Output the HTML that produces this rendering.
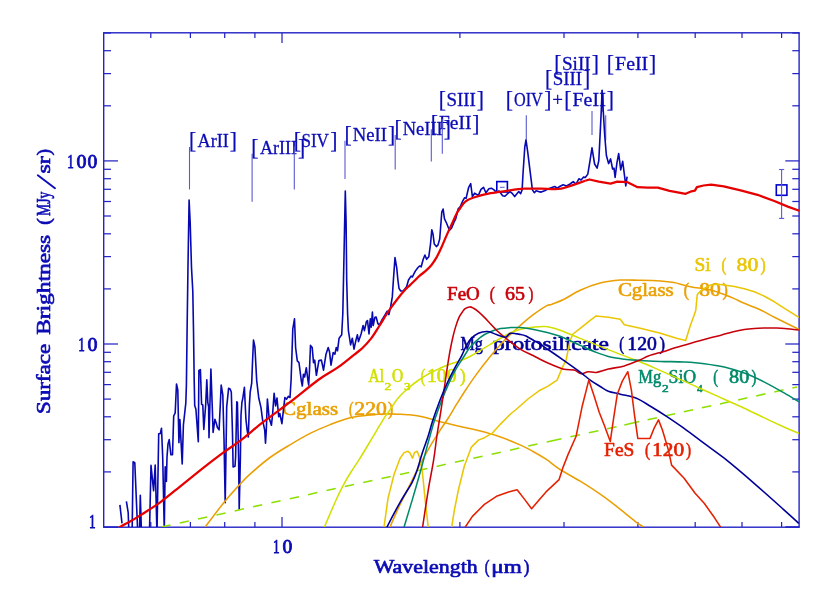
<!DOCTYPE html>
<html><head><meta charset="utf-8"><title>Spectrum</title>
<style>html,body{margin:0;padding:0;background:#fff}svg{display:block;will-change:transform}text{font-family:"Liberation Serif",serif}</style>
</head><body>
<svg width="830" height="593" viewBox="0 0 830 593">
<rect width="830" height="593" fill="#ffffff"/>
<defs><clipPath id="c"><rect x="104.0" y="33.0" width="695.3" height="494.0"/></clipPath></defs>
<rect x="103.7" y="32.8" width="695.4" height="494.4" fill="none" stroke="#2424c6" stroke-width="1.4"/>
<line x1="150.8" y1="527.0" x2="150.8" y2="522.0" stroke="#2424c6" stroke-width="1.25" />
<line x1="150.8" y1="33.0" x2="150.8" y2="38.0" stroke="#2424c6" stroke-width="1.25" />
<line x1="190.4" y1="527.0" x2="190.4" y2="522.0" stroke="#2424c6" stroke-width="1.25" />
<line x1="190.4" y1="33.0" x2="190.4" y2="38.0" stroke="#2424c6" stroke-width="1.25" />
<line x1="224.7" y1="527.0" x2="224.7" y2="522.0" stroke="#2424c6" stroke-width="1.25" />
<line x1="224.7" y1="33.0" x2="224.7" y2="38.0" stroke="#2424c6" stroke-width="1.25" />
<line x1="254.9" y1="527.0" x2="254.9" y2="522.0" stroke="#2424c6" stroke-width="1.25" />
<line x1="254.9" y1="33.0" x2="254.9" y2="38.0" stroke="#2424c6" stroke-width="1.25" />
<line x1="282.0" y1="527.0" x2="282.0" y2="517.0" stroke="#2424c6" stroke-width="1.25" />
<line x1="282.0" y1="33.0" x2="282.0" y2="43.0" stroke="#2424c6" stroke-width="1.25" />
<line x1="459.9" y1="527.0" x2="459.9" y2="522.0" stroke="#2424c6" stroke-width="1.25" />
<line x1="459.9" y1="33.0" x2="459.9" y2="38.0" stroke="#2424c6" stroke-width="1.25" />
<line x1="564.0" y1="527.0" x2="564.0" y2="522.0" stroke="#2424c6" stroke-width="1.25" />
<line x1="564.0" y1="33.0" x2="564.0" y2="38.0" stroke="#2424c6" stroke-width="1.25" />
<line x1="637.9" y1="527.0" x2="637.9" y2="522.0" stroke="#2424c6" stroke-width="1.25" />
<line x1="637.9" y1="33.0" x2="637.9" y2="38.0" stroke="#2424c6" stroke-width="1.25" />
<line x1="695.2" y1="527.0" x2="695.2" y2="522.0" stroke="#2424c6" stroke-width="1.25" />
<line x1="695.2" y1="33.0" x2="695.2" y2="38.0" stroke="#2424c6" stroke-width="1.25" />
<line x1="742.0" y1="527.0" x2="742.0" y2="522.0" stroke="#2424c6" stroke-width="1.25" />
<line x1="742.0" y1="33.0" x2="742.0" y2="38.0" stroke="#2424c6" stroke-width="1.25" />
<line x1="781.6" y1="527.0" x2="781.6" y2="522.0" stroke="#2424c6" stroke-width="1.25" />
<line x1="781.6" y1="33.0" x2="781.6" y2="38.0" stroke="#2424c6" stroke-width="1.25" />
<line x1="104.0" y1="471.9" x2="111.0" y2="471.9" stroke="#2424c6" stroke-width="1.25" />
<line x1="799.3" y1="471.9" x2="792.3" y2="471.9" stroke="#2424c6" stroke-width="1.25" />
<line x1="104.0" y1="439.7" x2="111.0" y2="439.7" stroke="#2424c6" stroke-width="1.25" />
<line x1="799.3" y1="439.7" x2="792.3" y2="439.7" stroke="#2424c6" stroke-width="1.25" />
<line x1="104.0" y1="416.8" x2="111.0" y2="416.8" stroke="#2424c6" stroke-width="1.25" />
<line x1="799.3" y1="416.8" x2="792.3" y2="416.8" stroke="#2424c6" stroke-width="1.25" />
<line x1="104.0" y1="399.1" x2="111.0" y2="399.1" stroke="#2424c6" stroke-width="1.25" />
<line x1="799.3" y1="399.1" x2="792.3" y2="399.1" stroke="#2424c6" stroke-width="1.25" />
<line x1="104.0" y1="384.6" x2="111.0" y2="384.6" stroke="#2424c6" stroke-width="1.25" />
<line x1="799.3" y1="384.6" x2="792.3" y2="384.6" stroke="#2424c6" stroke-width="1.25" />
<line x1="104.0" y1="372.3" x2="111.0" y2="372.3" stroke="#2424c6" stroke-width="1.25" />
<line x1="799.3" y1="372.3" x2="792.3" y2="372.3" stroke="#2424c6" stroke-width="1.25" />
<line x1="104.0" y1="361.7" x2="111.0" y2="361.7" stroke="#2424c6" stroke-width="1.25" />
<line x1="799.3" y1="361.7" x2="792.3" y2="361.7" stroke="#2424c6" stroke-width="1.25" />
<line x1="104.0" y1="352.3" x2="111.0" y2="352.3" stroke="#2424c6" stroke-width="1.25" />
<line x1="799.3" y1="352.3" x2="792.3" y2="352.3" stroke="#2424c6" stroke-width="1.25" />
<line x1="104.0" y1="344.0" x2="118.0" y2="344.0" stroke="#2424c6" stroke-width="1.25" />
<line x1="799.3" y1="344.0" x2="785.3" y2="344.0" stroke="#2424c6" stroke-width="1.25" />
<line x1="104.0" y1="288.9" x2="111.0" y2="288.9" stroke="#2424c6" stroke-width="1.25" />
<line x1="799.3" y1="288.9" x2="792.3" y2="288.9" stroke="#2424c6" stroke-width="1.25" />
<line x1="104.0" y1="256.6" x2="111.0" y2="256.6" stroke="#2424c6" stroke-width="1.25" />
<line x1="799.3" y1="256.6" x2="792.3" y2="256.6" stroke="#2424c6" stroke-width="1.25" />
<line x1="104.0" y1="233.8" x2="111.0" y2="233.8" stroke="#2424c6" stroke-width="1.25" />
<line x1="799.3" y1="233.8" x2="792.3" y2="233.8" stroke="#2424c6" stroke-width="1.25" />
<line x1="104.0" y1="216.0" x2="111.0" y2="216.0" stroke="#2424c6" stroke-width="1.25" />
<line x1="799.3" y1="216.0" x2="792.3" y2="216.0" stroke="#2424c6" stroke-width="1.25" />
<line x1="104.0" y1="201.5" x2="111.0" y2="201.5" stroke="#2424c6" stroke-width="1.25" />
<line x1="799.3" y1="201.5" x2="792.3" y2="201.5" stroke="#2424c6" stroke-width="1.25" />
<line x1="104.0" y1="189.3" x2="111.0" y2="189.3" stroke="#2424c6" stroke-width="1.25" />
<line x1="799.3" y1="189.3" x2="792.3" y2="189.3" stroke="#2424c6" stroke-width="1.25" />
<line x1="104.0" y1="178.7" x2="111.0" y2="178.7" stroke="#2424c6" stroke-width="1.25" />
<line x1="799.3" y1="178.7" x2="792.3" y2="178.7" stroke="#2424c6" stroke-width="1.25" />
<line x1="104.0" y1="169.3" x2="111.0" y2="169.3" stroke="#2424c6" stroke-width="1.25" />
<line x1="799.3" y1="169.3" x2="792.3" y2="169.3" stroke="#2424c6" stroke-width="1.25" />
<line x1="104.0" y1="160.9" x2="118.0" y2="160.9" stroke="#2424c6" stroke-width="1.25" />
<line x1="799.3" y1="160.9" x2="785.3" y2="160.9" stroke="#2424c6" stroke-width="1.25" />
<line x1="104.0" y1="105.8" x2="111.0" y2="105.8" stroke="#2424c6" stroke-width="1.25" />
<line x1="799.3" y1="105.8" x2="792.3" y2="105.8" stroke="#2424c6" stroke-width="1.25" />
<line x1="104.0" y1="73.6" x2="111.0" y2="73.6" stroke="#2424c6" stroke-width="1.25" />
<line x1="799.3" y1="73.6" x2="792.3" y2="73.6" stroke="#2424c6" stroke-width="1.25" />
<line x1="104.0" y1="50.7" x2="111.0" y2="50.7" stroke="#2424c6" stroke-width="1.25" />
<line x1="799.3" y1="50.7" x2="792.3" y2="50.7" stroke="#2424c6" stroke-width="1.25" />
<line x1="104.0" y1="33.0" x2="111.0" y2="33.0" stroke="#2424c6" stroke-width="1.25" />
<line x1="799.3" y1="33.0" x2="792.3" y2="33.0" stroke="#2424c6" stroke-width="1.25" />
<line x1="104.0" y1="527.0" x2="118.0" y2="527.0" stroke="#2424c6" stroke-width="1.6" />
<line x1="799.3" y1="527.0" x2="785.3" y2="527.0" stroke="#2424c6" stroke-width="1.6" />
<rect x="496.8" y="181.6" width="10.6" height="10.4" fill="none" stroke="#0000cd" stroke-width="1.6"/>
<line x1="499.9" y1="187.3" x2="504.6" y2="187.3" stroke="#5a5ad0" stroke-width="1" />
<rect x="776.3" y="184.9" width="10.6" height="10.4" fill="none" stroke="#0000cd" stroke-width="1.6"/>
<line x1="781.6" y1="169.5" x2="781.6" y2="218.4" stroke="#5a5ad0" stroke-width="1.1" />
<line x1="779.0" y1="169.5" x2="784.2" y2="169.5" stroke="#5a5ad0" stroke-width="1.1" />
<line x1="779.0" y1="218.4" x2="784.2" y2="218.4" stroke="#5a5ad0" stroke-width="1.1" />
<line x1="189.5" y1="147.0" x2="189.5" y2="189.5" stroke="#5a5ad0" stroke-width="1.1" />
<text x="189.0" y="148.1" fill="#0c0cb6" font-size="22.9" font-weight="normal" font-family="'Liberation Serif', serif" text-anchor="start" textLength="7.2" lengthAdjust="spacingAndGlyphs"  stroke="#0c0cb6" stroke-width="0.25" stroke-linejoin="round">[</text>
<text x="229.7" y="148.1" fill="#0c0cb6" font-size="22.9" font-weight="normal" font-family="'Liberation Serif', serif" text-anchor="start" textLength="7.2" lengthAdjust="spacingAndGlyphs"  stroke="#0c0cb6" stroke-width="0.25" stroke-linejoin="round">]</text>
<text x="197.6" y="147.0" fill="#0c0cb6" font-size="18.5" font-weight="normal" font-family="'Liberation Serif', serif" text-anchor="start" textLength="31.2" lengthAdjust="spacingAndGlyphs"  stroke="#0c0cb6" stroke-width="0.3" stroke-linejoin="round">ArII</text>
<line x1="252.1" y1="153.7" x2="252.1" y2="201.8" stroke="#5a5ad0" stroke-width="1.1" />
<text x="251.2" y="154.8" fill="#0c0cb6" font-size="22.9" font-weight="normal" font-family="'Liberation Serif', serif" text-anchor="start" textLength="7.2" lengthAdjust="spacingAndGlyphs"  stroke="#0c0cb6" stroke-width="0.25" stroke-linejoin="round">[</text>
<text x="297.9" y="154.8" fill="#0c0cb6" font-size="22.9" font-weight="normal" font-family="'Liberation Serif', serif" text-anchor="start" textLength="7.2" lengthAdjust="spacingAndGlyphs"  stroke="#0c0cb6" stroke-width="0.25" stroke-linejoin="round">]</text>
<text x="259.9" y="153.7" fill="#0c0cb6" font-size="18.5" font-weight="normal" font-family="'Liberation Serif', serif" text-anchor="start" textLength="37.1" lengthAdjust="spacingAndGlyphs"  stroke="#0c0cb6" stroke-width="0.3" stroke-linejoin="round">ArIII</text>
<line x1="294.3" y1="146.6" x2="294.3" y2="189.4" stroke="#5a5ad0" stroke-width="1.1" />
<text x="293.7" y="147.8" fill="#0c0cb6" font-size="22.9" font-weight="normal" font-family="'Liberation Serif', serif" text-anchor="start" textLength="7.2" lengthAdjust="spacingAndGlyphs"  stroke="#0c0cb6" stroke-width="0.25" stroke-linejoin="round">[</text>
<text x="330.3" y="147.8" fill="#0c0cb6" font-size="22.9" font-weight="normal" font-family="'Liberation Serif', serif" text-anchor="start" textLength="7.2" lengthAdjust="spacingAndGlyphs"  stroke="#0c0cb6" stroke-width="0.25" stroke-linejoin="round">]</text>
<text x="301.4" y="146.7" fill="#0c0cb6" font-size="18.5" font-weight="normal" font-family="'Liberation Serif', serif" text-anchor="start" textLength="27.5" lengthAdjust="spacingAndGlyphs"  stroke="#0c0cb6" stroke-width="0.3" stroke-linejoin="round">SIV</text>
<line x1="345.0" y1="140.7" x2="345.0" y2="178.9" stroke="#5a5ad0" stroke-width="1.1" />
<text x="344.4" y="141.8" fill="#0c0cb6" font-size="22.9" font-weight="normal" font-family="'Liberation Serif', serif" text-anchor="start" textLength="7.2" lengthAdjust="spacingAndGlyphs"  stroke="#0c0cb6" stroke-width="0.25" stroke-linejoin="round">[</text>
<text x="387.9" y="141.8" fill="#0c0cb6" font-size="22.9" font-weight="normal" font-family="'Liberation Serif', serif" text-anchor="start" textLength="7.2" lengthAdjust="spacingAndGlyphs"  stroke="#0c0cb6" stroke-width="0.25" stroke-linejoin="round">]</text>
<text x="352.7" y="140.7" fill="#0c0cb6" font-size="18.5" font-weight="normal" font-family="'Liberation Serif', serif" text-anchor="start" textLength="34.2" lengthAdjust="spacingAndGlyphs"  stroke="#0c0cb6" stroke-width="0.3" stroke-linejoin="round">NeII</text>
<line x1="395.2" y1="134.9" x2="395.2" y2="169.5" stroke="#5a5ad0" stroke-width="1.1" />
<text x="394.4" y="136.0" fill="#0c0cb6" font-size="22.9" font-weight="normal" font-family="'Liberation Serif', serif" text-anchor="start" textLength="7.2" lengthAdjust="spacingAndGlyphs"  stroke="#0c0cb6" stroke-width="0.25" stroke-linejoin="round">[</text>
<text x="443.7" y="136.0" fill="#0c0cb6" font-size="22.9" font-weight="normal" font-family="'Liberation Serif', serif" text-anchor="start" textLength="7.2" lengthAdjust="spacingAndGlyphs"  stroke="#0c0cb6" stroke-width="0.25" stroke-linejoin="round">]</text>
<text x="402.7" y="134.9" fill="#0c0cb6" font-size="18.5" font-weight="normal" font-family="'Liberation Serif', serif" text-anchor="start" textLength="40.0" lengthAdjust="spacingAndGlyphs"  stroke="#0c0cb6" stroke-width="0.3" stroke-linejoin="round">NeIII</text>
<line x1="431.3" y1="129.2" x2="431.3" y2="161.6" stroke="#5a5ad0" stroke-width="1.1" />
<text x="430.7" y="130.5" fill="#0c0cb6" font-size="22.9" font-weight="normal" font-family="'Liberation Serif', serif" text-anchor="start" textLength="7.2" lengthAdjust="spacingAndGlyphs"  stroke="#0c0cb6" stroke-width="0.25" stroke-linejoin="round">[</text>
<text x="472.3" y="130.5" fill="#0c0cb6" font-size="22.9" font-weight="normal" font-family="'Liberation Serif', serif" text-anchor="start" textLength="7.2" lengthAdjust="spacingAndGlyphs"  stroke="#0c0cb6" stroke-width="0.25" stroke-linejoin="round">]</text>
<text x="439.0" y="129.4" fill="#0c0cb6" font-size="18.5" font-weight="normal" font-family="'Liberation Serif', serif" text-anchor="start" textLength="32.4" lengthAdjust="spacingAndGlyphs"  stroke="#0c0cb6" stroke-width="0.3" stroke-linejoin="round">FeII</text>
<line x1="442.3" y1="118.9" x2="442.3" y2="153.8" stroke="#5a5ad0" stroke-width="1.1" />
<text x="438.8" y="107.0" fill="#0c0cb6" font-size="22.9" font-weight="normal" font-family="'Liberation Serif', serif" text-anchor="start" textLength="7.2" lengthAdjust="spacingAndGlyphs"  stroke="#0c0cb6" stroke-width="0.25" stroke-linejoin="round">[</text>
<text x="476.7" y="107.0" fill="#0c0cb6" font-size="22.9" font-weight="normal" font-family="'Liberation Serif', serif" text-anchor="start" textLength="7.2" lengthAdjust="spacingAndGlyphs"  stroke="#0c0cb6" stroke-width="0.25" stroke-linejoin="round">]</text>
<text x="446.4" y="105.9" fill="#0c0cb6" font-size="18.5" font-weight="normal" font-family="'Liberation Serif', serif" text-anchor="start" textLength="29.4" lengthAdjust="spacingAndGlyphs"  stroke="#0c0cb6" stroke-width="0.3" stroke-linejoin="round">SIII</text>
<line x1="526.3" y1="115.3" x2="526.3" y2="139.2" stroke="#5a5ad0" stroke-width="1.1" />
<text x="505.8" y="107.1" fill="#0c0cb6" font-size="22.9" font-weight="normal" font-family="'Liberation Serif', serif" text-anchor="start" textLength="7.2" lengthAdjust="spacingAndGlyphs"  stroke="#0c0cb6" stroke-width="0.25" stroke-linejoin="round">[</text>
<text x="544.2" y="107.1" fill="#0c0cb6" font-size="22.9" font-weight="normal" font-family="'Liberation Serif', serif" text-anchor="start" textLength="7.2" lengthAdjust="spacingAndGlyphs"  stroke="#0c0cb6" stroke-width="0.25" stroke-linejoin="round">]</text>
<text x="514.0" y="106.0" fill="#0c0cb6" font-size="18.5" font-weight="normal" font-family="'Liberation Serif', serif" text-anchor="start" textLength="28.8" lengthAdjust="spacingAndGlyphs"  stroke="#0c0cb6" stroke-width="0.3" stroke-linejoin="round">OIV</text>
<text x="552.2" y="106.0" fill="#0c0cb6" font-size="18.5" font-weight="normal" font-family="'Liberation Serif', serif" text-anchor="start" textLength="10.7" lengthAdjust="spacingAndGlyphs"  stroke="#0c0cb6" stroke-width="0.3" stroke-linejoin="round">+</text>
<text x="564.2" y="107.1" fill="#0c0cb6" font-size="22.9" font-weight="normal" font-family="'Liberation Serif', serif" text-anchor="start" textLength="7.2" lengthAdjust="spacingAndGlyphs"  stroke="#0c0cb6" stroke-width="0.25" stroke-linejoin="round">[</text>
<text x="606.7" y="107.1" fill="#0c0cb6" font-size="22.9" font-weight="normal" font-family="'Liberation Serif', serif" text-anchor="start" textLength="7.2" lengthAdjust="spacingAndGlyphs"  stroke="#0c0cb6" stroke-width="0.25" stroke-linejoin="round">]</text>
<text x="572.5" y="106.0" fill="#0c0cb6" font-size="18.5" font-weight="normal" font-family="'Liberation Serif', serif" text-anchor="start" textLength="33.3" lengthAdjust="spacingAndGlyphs"  stroke="#0c0cb6" stroke-width="0.3" stroke-linejoin="round">FeII</text>
<line x1="592.0" y1="111.0" x2="592.0" y2="135.0" stroke="#5a5ad0" stroke-width="1.1" />
<text x="545.1" y="85.6" fill="#0c0cb6" font-size="22.9" font-weight="normal" font-family="'Liberation Serif', serif" text-anchor="start" textLength="7.2" lengthAdjust="spacingAndGlyphs"  stroke="#0c0cb6" stroke-width="0.25" stroke-linejoin="round">[</text>
<text x="583.1" y="85.6" fill="#0c0cb6" font-size="22.9" font-weight="normal" font-family="'Liberation Serif', serif" text-anchor="start" textLength="7.2" lengthAdjust="spacingAndGlyphs"  stroke="#0c0cb6" stroke-width="0.25" stroke-linejoin="round">]</text>
<text x="552.7" y="84.5" fill="#0c0cb6" font-size="18.5" font-weight="normal" font-family="'Liberation Serif', serif" text-anchor="start" textLength="29.5" lengthAdjust="spacingAndGlyphs"  stroke="#0c0cb6" stroke-width="0.3" stroke-linejoin="round">SIII</text>
<line x1="602.1" y1="90.0" x2="602.1" y2="112.0" stroke="#5a5ad0" stroke-width="1.1" />
<text x="554.3" y="70.7" fill="#0c0cb6" font-size="22.9" font-weight="normal" font-family="'Liberation Serif', serif" text-anchor="start" textLength="7.2" lengthAdjust="spacingAndGlyphs"  stroke="#0c0cb6" stroke-width="0.25" stroke-linejoin="round">[</text>
<text x="591.7" y="70.7" fill="#0c0cb6" font-size="22.9" font-weight="normal" font-family="'Liberation Serif', serif" text-anchor="start" textLength="7.2" lengthAdjust="spacingAndGlyphs"  stroke="#0c0cb6" stroke-width="0.25" stroke-linejoin="round">]</text>
<text x="561.9" y="69.6" fill="#0c0cb6" font-size="18.5" font-weight="normal" font-family="'Liberation Serif', serif" text-anchor="start" textLength="28.9" lengthAdjust="spacingAndGlyphs"  stroke="#0c0cb6" stroke-width="0.3" stroke-linejoin="round">SiII</text>
<line x1="605.7" y1="115.3" x2="605.7" y2="140.5" stroke="#5a5ad0" stroke-width="1.1" />
<text x="606.8" y="70.7" fill="#0c0cb6" font-size="22.9" font-weight="normal" font-family="'Liberation Serif', serif" text-anchor="start" textLength="7.2" lengthAdjust="spacingAndGlyphs"  stroke="#0c0cb6" stroke-width="0.25" stroke-linejoin="round">[</text>
<text x="649.1" y="70.7" fill="#0c0cb6" font-size="22.9" font-weight="normal" font-family="'Liberation Serif', serif" text-anchor="start" textLength="7.2" lengthAdjust="spacingAndGlyphs"  stroke="#0c0cb6" stroke-width="0.25" stroke-linejoin="round">]</text>
<text x="615.1" y="69.6" fill="#0c0cb6" font-size="18.5" font-weight="normal" font-family="'Liberation Serif', serif" text-anchor="start" textLength="33.1" lengthAdjust="spacingAndGlyphs"  stroke="#0c0cb6" stroke-width="0.3" stroke-linejoin="round">FeII</text>
<text x="447.1" y="300.0" fill="#c8000a" font-size="18.1" font-weight="normal" font-family="'Liberation Serif', serif" text-anchor="start" textLength="32.7" lengthAdjust="spacingAndGlyphs"  stroke="#c8000a" stroke-width="0.58" stroke-linejoin="round">FeO</text>
<text x="489.7" y="300.0" fill="#c8000a" font-size="18.1" font-weight="normal" font-family="'Liberation Serif', serif" text-anchor="start" textLength="5.1" lengthAdjust="spacingAndGlyphs"  stroke="#c8000a" stroke-width="0.58" stroke-linejoin="round">(</text>
<text x="505.0" y="300.0" fill="#c8000a" font-size="18.1" font-weight="normal" font-family="'Liberation Serif', serif" text-anchor="start" textLength="20.0" lengthAdjust="spacingAndGlyphs"  stroke="#c8000a" stroke-width="0.58" stroke-linejoin="round">65</text>
<text x="528.5" y="300.0" fill="#c8000a" font-size="18.1" font-weight="normal" font-family="'Liberation Serif', serif" text-anchor="start" textLength="4.8" lengthAdjust="spacingAndGlyphs"  stroke="#c8000a" stroke-width="0.58" stroke-linejoin="round">)</text>
<text x="460.4" y="350.0" fill="#000098" font-size="18.1" font-weight="normal" font-family="'Liberation Serif', serif" text-anchor="start" textLength="22.3" lengthAdjust="spacingAndGlyphs"  stroke="#000098" stroke-width="0.58" stroke-linejoin="round">Mg</text>
<text x="493.0" y="350.0" fill="#000098" font-size="18.1" font-weight="normal" font-family="'Liberation Serif', serif" text-anchor="start" textLength="116.0" lengthAdjust="spacingAndGlyphs"  stroke="#000098" stroke-width="0.58" stroke-linejoin="round">protosilicate</text>
<text x="619.3" y="350.0" fill="#000098" font-size="18.1" font-weight="normal" font-family="'Liberation Serif', serif" text-anchor="start" textLength="4.8" lengthAdjust="spacingAndGlyphs"  stroke="#000098" stroke-width="0.58" stroke-linejoin="round">(</text>
<text x="627.3" y="350.0" fill="#000098" font-size="18.1" font-weight="normal" font-family="'Liberation Serif', serif" text-anchor="start" textLength="29.5" lengthAdjust="spacingAndGlyphs"  stroke="#000098" stroke-width="0.58" stroke-linejoin="round">120</text>
<text x="659.6" y="350.0" fill="#000098" font-size="18.1" font-weight="normal" font-family="'Liberation Serif', serif" text-anchor="start" textLength="5.5" lengthAdjust="spacingAndGlyphs"  stroke="#000098" stroke-width="0.58" stroke-linejoin="round">)</text>
<text x="282.1" y="415.0" fill="#eaa004" font-size="18.1" font-weight="normal" font-family="'Liberation Serif', serif" text-anchor="start" textLength="56.0" lengthAdjust="spacingAndGlyphs"  stroke="#eaa004" stroke-width="0.58" stroke-linejoin="round">Cglass</text>
<text x="348.9" y="415.0" fill="#eaa004" font-size="18.1" font-weight="normal" font-family="'Liberation Serif', serif" text-anchor="start" textLength="4.5" lengthAdjust="spacingAndGlyphs"  stroke="#eaa004" stroke-width="0.58" stroke-linejoin="round">(</text>
<text x="354.3" y="415.0" fill="#eaa004" font-size="18.1" font-weight="normal" font-family="'Liberation Serif', serif" text-anchor="start" textLength="32.5" lengthAdjust="spacingAndGlyphs"  stroke="#eaa004" stroke-width="0.58" stroke-linejoin="round">220</text>
<text x="388.1" y="415.0" fill="#eaa004" font-size="18.1" font-weight="normal" font-family="'Liberation Serif', serif" text-anchor="start" textLength="5.2" lengthAdjust="spacingAndGlyphs"  stroke="#eaa004" stroke-width="0.58" stroke-linejoin="round">)</text>
<text x="617.9" y="296.0" fill="#eaa004" font-size="18.1" font-weight="normal" font-family="'Liberation Serif', serif" text-anchor="start" textLength="55.8" lengthAdjust="spacingAndGlyphs"  stroke="#eaa004" stroke-width="0.58" stroke-linejoin="round">Cglass</text>
<text x="683.7" y="296.0" fill="#eaa004" font-size="18.1" font-weight="normal" font-family="'Liberation Serif', serif" text-anchor="start" textLength="5.3" lengthAdjust="spacingAndGlyphs"  stroke="#eaa004" stroke-width="0.58" stroke-linejoin="round">(</text>
<text x="699.3" y="296.0" fill="#eaa004" font-size="18.1" font-weight="normal" font-family="'Liberation Serif', serif" text-anchor="start" textLength="21.5" lengthAdjust="spacingAndGlyphs"  stroke="#eaa004" stroke-width="0.58" stroke-linejoin="round">80</text>
<text x="722.5" y="296.0" fill="#eaa004" font-size="18.1" font-weight="normal" font-family="'Liberation Serif', serif" text-anchor="start" textLength="5.3" lengthAdjust="spacingAndGlyphs"  stroke="#eaa004" stroke-width="0.58" stroke-linejoin="round">)</text>
<text x="694.5" y="271.0" fill="#eac604" font-size="18.1" font-weight="normal" font-family="'Liberation Serif', serif" text-anchor="start" textLength="16.2" lengthAdjust="spacingAndGlyphs"  stroke="#eac604" stroke-width="0.58" stroke-linejoin="round">Si</text>
<text x="721.6" y="271.0" fill="#eac604" font-size="18.1" font-weight="normal" font-family="'Liberation Serif', serif" text-anchor="start" textLength="4.9" lengthAdjust="spacingAndGlyphs"  stroke="#eac604" stroke-width="0.58" stroke-linejoin="round">(</text>
<text x="736.6" y="271.0" fill="#eac604" font-size="18.1" font-weight="normal" font-family="'Liberation Serif', serif" text-anchor="start" textLength="21.8" lengthAdjust="spacingAndGlyphs"  stroke="#eac604" stroke-width="0.58" stroke-linejoin="round">80</text>
<text x="760.6" y="271.0" fill="#eac604" font-size="18.1" font-weight="normal" font-family="'Liberation Serif', serif" text-anchor="start" textLength="5.1" lengthAdjust="spacingAndGlyphs"  stroke="#eac604" stroke-width="0.58" stroke-linejoin="round">)</text>
<text x="604.1" y="456.0" fill="#e42000" font-size="18.1" font-weight="normal" font-family="'Liberation Serif', serif" text-anchor="start" textLength="30.2" lengthAdjust="spacingAndGlyphs"  stroke="#e42000" stroke-width="0.58" stroke-linejoin="round">FeS</text>
<text x="645.1" y="456.0" fill="#e42000" font-size="18.1" font-weight="normal" font-family="'Liberation Serif', serif" text-anchor="start" textLength="5.1" lengthAdjust="spacingAndGlyphs"  stroke="#e42000" stroke-width="0.58" stroke-linejoin="round">(</text>
<text x="652.0" y="456.0" fill="#e42000" font-size="18.1" font-weight="normal" font-family="'Liberation Serif', serif" text-anchor="start" textLength="32.1" lengthAdjust="spacingAndGlyphs"  stroke="#e42000" stroke-width="0.58" stroke-linejoin="round">120</text>
<text x="685.9" y="456.0" fill="#e42000" font-size="18.1" font-weight="normal" font-family="'Liberation Serif', serif" text-anchor="start" textLength="5.1" lengthAdjust="spacingAndGlyphs"  stroke="#e42000" stroke-width="0.58" stroke-linejoin="round">)</text>
<text x="368.6" y="381.9" fill="#d2e000" font-size="18.1" font-weight="normal" font-family="'Liberation Serif', serif" text-anchor="start" textLength="15.4" lengthAdjust="spacingAndGlyphs"  stroke="#d2e000" stroke-width="0.58" stroke-linejoin="round">Al</text>
<text x="391.9" y="381.9" fill="#d2e000" font-size="18.1" font-weight="normal" font-family="'Liberation Serif', serif" text-anchor="start" textLength="11.2" lengthAdjust="spacingAndGlyphs"  stroke="#d2e000" stroke-width="0.58" stroke-linejoin="round">O</text>
<text x="420.7" y="381.9" fill="#d2e000" font-size="18.1" font-weight="normal" font-family="'Liberation Serif', serif" text-anchor="start" textLength="4.3" lengthAdjust="spacingAndGlyphs"  stroke="#d2e000" stroke-width="0.58" stroke-linejoin="round">(</text>
<text x="427.1" y="381.9" fill="#d2e000" font-size="18.1" font-weight="normal" font-family="'Liberation Serif', serif" text-anchor="start" textLength="29.3" lengthAdjust="spacingAndGlyphs"  stroke="#d2e000" stroke-width="0.58" stroke-linejoin="round">100</text>
<text x="460.0" y="381.9" fill="#d2e000" font-size="18.1" font-weight="normal" font-family="'Liberation Serif', serif" text-anchor="start" textLength="5.6" lengthAdjust="spacingAndGlyphs"  stroke="#d2e000" stroke-width="0.58" stroke-linejoin="round">)</text>
<text x="384.6" y="389.9" fill="#d2e000" font-size="11.0" font-weight="normal" font-family="'Liberation Serif', serif" text-anchor="start" textLength="6.8" lengthAdjust="spacingAndGlyphs"  stroke="#d2e000" stroke-width="0.55" stroke-linejoin="round">2</text>
<text x="403.9" y="389.9" fill="#d2e000" font-size="11.0" font-weight="normal" font-family="'Liberation Serif', serif" text-anchor="start" textLength="6.5" lengthAdjust="spacingAndGlyphs"  stroke="#d2e000" stroke-width="0.55" stroke-linejoin="round">3</text>
<text x="638.3" y="382.8" fill="#008a6a" font-size="18.1" font-weight="normal" font-family="'Liberation Serif', serif" text-anchor="start" textLength="22.9" lengthAdjust="spacingAndGlyphs"  stroke="#008a6a" stroke-width="0.58" stroke-linejoin="round">Mg</text>
<text x="668.5" y="382.8" fill="#008a6a" font-size="18.1" font-weight="normal" font-family="'Liberation Serif', serif" text-anchor="start" textLength="27.7" lengthAdjust="spacingAndGlyphs"  stroke="#008a6a" stroke-width="0.58" stroke-linejoin="round">SiO</text>
<text x="661.9" y="391.7" fill="#008a6a" font-size="11.0" font-weight="normal" font-family="'Liberation Serif', serif" text-anchor="start" textLength="6.7" lengthAdjust="spacingAndGlyphs"  stroke="#008a6a" stroke-width="0.55" stroke-linejoin="round">2</text>
<text x="696.9" y="391.7" fill="#008a6a" font-size="11.0" font-weight="normal" font-family="'Liberation Serif', serif" text-anchor="start" textLength="5.7" lengthAdjust="spacingAndGlyphs"  stroke="#008a6a" stroke-width="0.55" stroke-linejoin="round">4</text>
<text x="713.2" y="382.8" fill="#008a6a" font-size="18.1" font-weight="normal" font-family="'Liberation Serif', serif" text-anchor="start" textLength="4.8" lengthAdjust="spacingAndGlyphs"  stroke="#008a6a" stroke-width="0.58" stroke-linejoin="round">(</text>
<text x="729.1" y="382.8" fill="#008a6a" font-size="18.1" font-weight="normal" font-family="'Liberation Serif', serif" text-anchor="start" textLength="20.2" lengthAdjust="spacingAndGlyphs"  stroke="#008a6a" stroke-width="0.58" stroke-linejoin="round">80</text>
<text x="751.5" y="382.8" fill="#008a6a" font-size="18.1" font-weight="normal" font-family="'Liberation Serif', serif" text-anchor="start" textLength="4.9" lengthAdjust="spacingAndGlyphs"  stroke="#008a6a" stroke-width="0.58" stroke-linejoin="round">)</text>
<g clip-path="url(#c)">
<polyline points="119.9,504.8 122.0,523.4" fill="none" stroke="#0808b0" stroke-width="1.6" stroke-linejoin="round" />
<polyline points="126.4,501.3 128.2,512.7 128.7,527.0 128.9,540.0 132.0,540.0 132.2,527.0 133.1,461.8 134.8,462.7 137.5,527.0 138.0,540.0 139.3,540.0 139.6,527.0 140.3,495.2 141.3,527.0 141.5,540.0 149.3,540.0 149.6,527.0 151.0,465.4 153.6,490.8 155.2,465.0 156.8,527.0 156.9,540.0 157.0,540.0 157.1,527.0 158.7,433.8 160.3,433.5 161.5,428.2 162.7,457.0 164.2,527.0 164.2,540.0 164.3,527.0 165.2,466.9 166.4,481.5 167.0,457.0 168.0,443.9 169.2,439.6 170.9,454.8 172.5,454.8 173.7,416.0 175.2,412.9 176.5,384.0 177.8,389.9 178.9,442.6 179.9,419.6 182.2,463.9 183.4,425.0 185.8,403.2 186.4,385.0 187.1,330.0 188.0,265.0 189.1,200.1 190.2,223.0 191.5,267.6 192.8,291.2 193.5,330.0 194.2,380.6 194.7,405.6 195.9,409.3 198.3,441.7 198.9,370.5 200.4,369.6 201.6,404.4 202.8,405.0 203.8,429.5 205.7,404.6 206.8,379.7 207.8,402.5 208.6,406.7 209.0,437.8 210.9,369.1 212.4,411.0 213.1,432.5 214.9,419.3 216.3,423.3 217.4,427.5 219.1,429.9 221.2,385.1 222.8,394.8 224.0,438.4 225.2,502.7 226.7,406.8 228.6,388.3 230.1,389.0 231.3,392.0 232.5,433.5 233.1,466.9 235.0,466.3 235.6,457.0 236.8,401.8 237.4,402.6 238.6,457.0 239.2,509.4 240.4,457.0 241.0,415.3 241.9,402.5 242.8,398.3 244.4,387.3 245.9,419.0 247.1,429.9 248.3,437.0 249.4,405.0 250.2,392.0 251.7,383.1 252.6,360.0 253.5,340.1 254.9,346.9 256.7,380.6 258.8,398.3 261.0,407.6 262.6,420.2 264.7,430.0 265.5,443.2 266.3,430.0 267.4,399.1 269.1,417.7 271.4,425.3 272.6,414.3 274.1,393.2 275.6,405.9 277.0,398.0 278.7,416.8 279.8,413.5 281.9,423.6 284.1,404.2 284.9,397.5 286.6,399.2 288.3,396.3 290.0,397.5 291.1,380.0 292.8,328.9 294.5,318.8 295.6,347.5 297.3,360.9 299.0,362.6 301.2,380.0 302.3,386.0 303.4,374.4 304.6,377.0 306.3,367.7 307.9,380.0 308.7,385.0 309.4,372.0 310.5,345.4 312.2,347.5 313.5,362.6 314.7,360.1 316.4,375.3 318.9,360.6 321.4,360.1 323.5,370.2 326.0,354.2 328.2,347.5 329.5,351.7 331.0,365.2 333.2,352.5 334.9,354.2 336.3,347.5 337.5,350.8 339.1,338.2 341.7,334.8 342.8,313.7 343.5,280.0 344.5,230.6 345.3,191.0 346.1,222.2 346.7,280.0 347.6,313.7 348.4,330.6 350.6,344.9 352.3,338.2 354.0,349.1 356.0,339.9 357.4,334.8 358.5,341.6 361.1,334.0 363.1,325.5 364.4,330.6 366.5,321.3 367.5,320.5 369.0,334.0 370.3,318.8 371.2,327.2 372.4,312.0 373.2,325.5 374.9,317.4 376.2,317.1 377.9,323.8 379.6,324.7 382.1,319.6 384.7,315.4 387.2,311.2 388.9,314.6 390.6,307.0 392.3,296.9 393.4,280.0 395.0,257.6 396.7,267.7 397.9,280.0 399.0,288.4 400.7,291.0 403.2,291.0 406.6,286.7 408.5,280.0 411.1,276.1 412.4,277.0 413.6,274.4 415.3,271.1 417.8,267.7 419.5,266.0 421.2,266.8 423.2,259.3 424.9,255.0 426.6,259.3 428.8,256.7 430.5,244.1 431.8,229.7 433.0,234.0 434.3,244.1 436.4,246.6 438.0,244.9 439.7,239.0 441.8,212.0 443.1,209.0 444.5,218.8 446.5,223.0 448.2,227.2 449.5,230.3 451.5,228.1 454.1,222.0 455.7,218.8 457.4,212.0 458.2,208.9 460.2,206.7 462.8,200.8 464.5,197.8 466.1,198.3 468.7,187.3 470.7,183.6 472.4,196.6 474.6,193.2 476.3,194.1 478.4,195.4 481.0,189.4 483.5,187.3 485.9,192.7 488.9,188.7 491.4,188.2 494.0,189.9 496.5,192.4 499.0,191.0 502.7,195.8 504.9,196.3 507.5,193.7 510.0,191.6 512.5,193.7 514.7,196.6 516.7,194.1 518.8,191.6 520.6,193.7 522.1,189.9 523.1,172.2 524.8,146.9 526.0,139.8 527.7,151.9 530.2,172.2 532.4,189.9 534.4,192.7 536.1,190.7 538.7,191.6 541.2,192.1 544.6,190.7 547.9,189.0 551.3,187.7 554.7,186.5 557.2,188.2 559.7,186.5 563.1,184.8 566.5,186.0 570.1,184.0 573.2,181.6 576.0,184.2 578.9,178.8 581.1,180.0 583.6,177.1 585.3,177.5 587.8,174.1 589.5,164.0 592.0,147.9 594.6,164.0 597.1,168.2 598.8,160.6 600.5,126.9 601.3,110.0 602.1,90.3 603.2,110.0 604.7,135.3 606.4,155.5 608.6,163.6 610.6,158.9 612.6,169.0 614.0,168.2 615.1,177.5 617.0,162.3 618.7,153.5 620.7,169.9 622.7,161.4 624.1,172.4 625.8,185.9 627.1,176.6" fill="none" stroke="#0808b0" stroke-width="1.6" stroke-linejoin="round" />
<line x1="161.3" y1="527.0" x2="170.5" y2="525.0" stroke="#8ce000" stroke-width="1.55" />
<line x1="179.7" y1="523.0" x2="188.8" y2="521.0" stroke="#8ce000" stroke-width="1.55" />
<line x1="198.0" y1="519.0" x2="207.2" y2="516.9" stroke="#8ce000" stroke-width="1.55" />
<line x1="216.4" y1="514.9" x2="225.6" y2="512.9" stroke="#8ce000" stroke-width="1.55" />
<line x1="234.7" y1="510.9" x2="243.9" y2="508.8" stroke="#8ce000" stroke-width="1.55" />
<line x1="253.1" y1="506.8" x2="262.2" y2="504.8" stroke="#8ce000" stroke-width="1.55" />
<line x1="271.4" y1="502.8" x2="280.6" y2="500.7" stroke="#8ce000" stroke-width="1.55" />
<line x1="289.8" y1="498.7" x2="298.9" y2="496.7" stroke="#8ce000" stroke-width="1.55" />
<line x1="308.1" y1="494.7" x2="317.3" y2="492.6" stroke="#8ce000" stroke-width="1.55" />
<line x1="326.5" y1="490.6" x2="335.7" y2="488.6" stroke="#8ce000" stroke-width="1.55" />
<line x1="344.8" y1="486.6" x2="354.0" y2="484.6" stroke="#8ce000" stroke-width="1.55" />
<line x1="363.2" y1="482.5" x2="372.4" y2="480.5" stroke="#8ce000" stroke-width="1.55" />
<line x1="381.5" y1="478.5" x2="390.7" y2="476.5" stroke="#8ce000" stroke-width="1.55" />
<line x1="399.9" y1="474.4" x2="409.1" y2="472.4" stroke="#8ce000" stroke-width="1.55" />
<line x1="418.2" y1="470.4" x2="427.4" y2="468.4" stroke="#8ce000" stroke-width="1.55" />
<line x1="436.6" y1="466.4" x2="445.8" y2="464.3" stroke="#8ce000" stroke-width="1.55" />
<line x1="454.9" y1="462.3" x2="464.1" y2="460.3" stroke="#8ce000" stroke-width="1.55" />
<line x1="473.3" y1="458.3" x2="482.5" y2="456.2" stroke="#8ce000" stroke-width="1.55" />
<line x1="491.6" y1="454.2" x2="500.8" y2="452.2" stroke="#8ce000" stroke-width="1.55" />
<line x1="510.0" y1="450.2" x2="519.2" y2="448.1" stroke="#8ce000" stroke-width="1.55" />
<line x1="528.3" y1="446.1" x2="537.5" y2="444.1" stroke="#8ce000" stroke-width="1.55" />
<line x1="546.7" y1="442.1" x2="561.5" y2="438.8" stroke="#8ce000" stroke-width="1.55" />
<line x1="570.4" y1="436.8" x2="580.0" y2="434.7" stroke="#8ce000" stroke-width="1.55" />
<line x1="588.8" y1="432.8" x2="598.4" y2="430.7" stroke="#8ce000" stroke-width="1.55" />
<line x1="607.1" y1="428.7" x2="616.6" y2="426.7" stroke="#8ce000" stroke-width="1.55" />
<line x1="624.3" y1="425.0" x2="639.3" y2="421.6" stroke="#8ce000" stroke-width="1.55" />
<line x1="647.6" y1="419.8" x2="656.9" y2="417.8" stroke="#8ce000" stroke-width="1.55" />
<line x1="665.7" y1="415.8" x2="675.0" y2="413.8" stroke="#8ce000" stroke-width="1.55" />
<line x1="683.8" y1="411.8" x2="693.1" y2="409.8" stroke="#8ce000" stroke-width="1.55" />
<line x1="701.9" y1="407.8" x2="711.2" y2="405.8" stroke="#8ce000" stroke-width="1.55" />
<line x1="720.0" y1="403.9" x2="729.3" y2="401.8" stroke="#8ce000" stroke-width="1.55" />
<line x1="738.1" y1="399.9" x2="747.4" y2="397.8" stroke="#8ce000" stroke-width="1.55" />
<line x1="756.2" y1="395.9" x2="765.5" y2="393.8" stroke="#8ce000" stroke-width="1.55" />
<line x1="774.3" y1="391.9" x2="783.6" y2="389.8" stroke="#8ce000" stroke-width="1.55" />
<line x1="792.4" y1="387.9" x2="797.0" y2="386.9" stroke="#8ce000" stroke-width="1.55" />
<path d="M205.2,527.0C208.5,522.6 219.5,507.9 225.2,500.9C230.9,493.9 235.1,489.6 239.2,485.1C243.3,480.7 244.9,478.8 250.0,474.2C255.1,469.6 263.3,462.4 270.0,457.5C276.7,452.6 283.3,448.8 290.0,444.8C296.7,440.8 303.4,436.8 310.1,433.4C316.8,430.0 323.5,427.2 330.2,424.6C336.9,422.0 343.5,419.4 350.2,417.8C356.9,416.2 364.3,415.5 370.3,414.9C376.3,414.2 381.4,414.0 386.4,413.9C391.4,413.8 396.5,414.1 400.4,414.3C404.3,414.5 407.0,414.5 410.0,414.8C413.0,415.1 415.5,415.3 418.5,415.9C421.5,416.5 424.6,417.2 428.2,418.2C431.8,419.2 434.8,420.4 440.2,421.8C445.6,423.2 453.6,424.9 460.3,426.5C467.0,428.1 473.7,429.3 480.4,431.1C487.1,432.9 493.8,434.8 500.5,437.1C507.2,439.4 515.2,442.8 520.6,445.1C526.0,447.5 528.4,448.9 532.6,451.2C536.8,453.5 541.4,456.1 546.0,459.2C550.6,462.2 554.4,465.8 560.1,469.5C565.8,473.2 573.5,477.1 580.2,481.2C586.9,485.3 593.5,489.5 600.2,494.2C606.9,498.9 614.3,504.6 620.3,509.3C626.3,514.0 632.4,519.3 636.4,522.3C640.4,525.3 642.4,526.1 644.0,527.4C645.6,528.7 645.7,529.6 646.0,530.0" fill="none" stroke="#eaa004" stroke-width="1.55" stroke-linejoin="round" />
<path d="M389.0,530.0C389.2,529.5 388.1,531.3 390.0,527.0C391.9,522.7 396.4,512.2 400.1,504.4C403.8,496.6 408.8,487.0 412.1,480.3C415.5,473.6 417.2,469.9 420.2,464.2C423.2,458.5 426.9,451.8 430.2,446.1C433.5,440.4 437.2,434.8 440.2,430.1C443.2,425.4 445.7,422.1 448.3,418.0C450.9,413.9 453.0,410.0 456.0,405.2C459.0,400.4 462.9,394.1 466.3,389.0C469.7,383.9 472.4,379.8 476.4,374.4C480.4,368.9 485.7,362.0 490.4,356.3C495.1,350.6 499.5,345.5 504.5,340.3C509.5,335.1 515.9,329.4 520.6,325.2C525.3,321.0 528.4,318.4 532.6,315.2C536.8,312.0 542.8,307.9 546.0,306.1C549.2,304.3 549.0,305.4 552.0,304.2C555.0,303.0 559.4,301.5 564.1,299.2C568.8,296.9 574.2,292.9 580.2,290.2C586.2,287.5 593.5,284.8 600.2,283.1C606.9,281.4 613.6,280.6 620.3,280.1C627.0,279.6 633.7,280.2 640.4,280.3C647.1,280.4 654.9,280.6 660.5,281.0C666.1,281.4 670.1,281.9 674.0,282.6C677.9,283.3 680.8,284.4 684.1,285.2C687.5,286.0 690.8,286.8 694.1,287.4C697.5,288.0 700.9,288.2 704.2,288.8C707.6,289.4 710.9,290.1 714.2,291.0C717.5,291.9 720.9,293.2 724.2,294.5C727.6,295.8 730.9,297.1 734.3,298.6C737.6,300.1 740.9,301.9 744.3,303.3C747.6,304.8 751.0,305.9 754.4,307.3C757.8,308.7 761.1,310.2 764.4,311.9C767.7,313.6 771.0,315.6 774.4,317.3C777.8,319.0 781.5,320.8 784.5,322.3C787.5,323.8 790.1,325.1 792.5,326.3C794.9,327.5 797.8,328.9 798.9,329.4" fill="none" stroke="#eaa004" stroke-width="1.55" stroke-linejoin="round" />
<polyline points="383.6,530.0 384.0,527.0 388.0,498.4 394.1,474.3 400.1,458.2 404.1,452.6 407.7,451.2 410.1,453.2 412.5,458.2 414.5,452.6 417.1,451.2 419.2,456.2 422.2,470.2 425.2,500.4 428.2,527.0 428.5,530.0 451.4,530.0 451.7,527.0 454.3,510.4 458.3,490.3 464.3,466.2 471.4,447.1 478.4,440.1 484.4,437.7 492.4,433.1 500.5,424.1 510.5,414.0 515.5,410.0 528.0,399.0 540.0,390.2 548.0,386.1 557.1,380.1 562.1,368.1 566.1,360.0 570.1,340.4 573.0,334.0 580.2,328.3 590.2,320.3 596.2,315.9 608.3,317.3 620.3,319.3 624.3,324.7 640.4,328.3 660.5,333.3 676.5,338.2 685.7,340.6 690.1,326.3 694.1,315.3 695.8,310.2 696.7,300.0 697.3,294.5 700.1,291.5 703.5,289.0 706.9,286.9 710.2,285.3 713.6,284.5 718.0,284.2 724.2,284.9 734.3,286.6 744.3,288.8 754.4,291.8 764.4,296.2 774.4,301.8 784.5,308.3 792.5,313.3 798.9,317.3" fill="none" stroke="#eac604" stroke-width="1.55" stroke-linejoin="round" />
<path d="M323.2,530.0C323.4,529.5 322.1,532.3 324.3,527.2C326.5,522.1 333.2,506.4 336.4,499.3C339.6,492.2 341.3,489.1 343.7,484.5C346.1,479.9 348.4,476.2 351.0,472.0C353.6,467.8 356.5,463.7 359.3,459.3C362.1,454.9 364.9,450.2 367.7,445.5C370.5,440.8 373.4,436.0 376.2,431.3C379.0,426.6 382.5,420.6 384.6,417.3C386.7,414.0 387.6,413.3 389.0,411.3C390.4,409.3 391.8,407.1 393.0,405.3C394.2,403.5 395.1,401.9 396.3,400.4C397.5,398.8 398.8,397.3 400.0,396.0C401.2,394.7 401.7,394.1 403.5,392.5C405.3,390.9 408.4,388.1 410.8,386.1C413.2,384.1 415.7,382.2 418.1,380.5C420.5,378.8 422.9,377.2 425.3,375.8C427.7,374.4 430.2,373.0 432.6,371.8C435.0,370.6 437.4,369.5 439.8,368.4C442.2,367.3 444.7,366.1 447.1,365.2C449.5,364.3 451.9,363.6 454.3,362.8C456.7,362.0 458.9,361.3 461.6,360.2C464.3,359.1 467.3,357.9 470.4,356.3C473.5,354.7 477.1,352.3 480.4,350.3C483.7,348.3 487.0,346.3 490.4,344.3C493.8,342.3 497.1,340.2 500.5,338.3C503.9,336.4 507.1,334.2 510.5,332.7C513.9,331.2 516.9,330.1 520.6,329.2C524.3,328.3 528.4,327.6 532.6,327.2C536.8,326.8 541.4,326.1 546.0,326.6C550.6,327.1 554.4,328.3 560.1,330.3C565.8,332.3 573.5,335.7 580.2,338.4C586.9,341.1 593.5,343.7 600.2,346.4C606.9,349.1 613.6,351.8 620.3,354.4C627.0,357.0 633.7,359.3 640.4,362.0C647.1,364.7 653.8,367.7 660.5,370.6C667.2,373.5 673.3,376.3 680.6,379.6C687.9,382.9 696.9,386.9 704.2,390.2C711.5,393.5 717.5,396.2 724.2,399.2C730.9,402.2 737.6,405.1 744.3,408.2C751.0,411.3 757.7,414.7 764.4,417.9C771.1,421.1 778.8,424.7 784.5,427.3C790.2,429.9 796.5,432.3 798.9,433.3" fill="none" stroke="#d2e000" stroke-width="1.55" stroke-linejoin="round" />
<path d="M403.6,530.0C403.7,529.5 402.7,531.9 404.1,527.0C405.5,522.1 409.4,509.5 412.1,500.4C414.8,491.3 417.7,481.2 420.2,472.2C422.7,463.1 425.6,452.1 427.2,446.1C428.8,440.1 428.8,440.2 430.0,436.0C431.2,431.8 432.4,427.0 434.3,421.1C436.2,415.2 439.2,407.1 441.6,400.8C444.0,394.5 446.4,388.7 448.8,383.4C451.2,378.1 453.7,373.1 456.1,368.9C458.5,364.7 460.6,361.7 463.0,358.0C465.4,354.3 467.5,350.2 470.4,346.8C473.3,343.4 477.1,339.8 480.4,337.3C483.7,334.8 487.0,333.2 490.4,331.8C493.8,330.4 497.1,329.3 500.5,328.6C503.9,327.9 507.1,327.8 510.5,327.6C513.9,327.4 516.9,327.3 520.6,327.6C524.3,327.9 528.4,328.4 532.6,329.2C536.8,330.0 541.4,331.0 546.0,332.2C550.6,333.4 554.4,334.1 560.1,336.3C565.8,338.5 574.2,342.7 580.2,345.4C586.2,348.1 591.2,350.5 596.2,352.4C601.2,354.3 605.6,355.9 610.3,357.0C615.0,358.1 619.3,358.6 624.3,359.2C629.3,359.8 634.4,360.0 640.4,360.4C646.4,360.8 653.2,361.1 660.5,361.4C667.8,361.7 676.8,361.6 684.1,362.0C691.4,362.4 697.5,362.8 704.2,363.7C710.9,364.6 717.5,365.5 724.2,367.1C730.9,368.7 737.6,370.6 744.3,373.1C751.0,375.6 757.7,378.8 764.4,382.1C771.1,385.5 778.8,389.9 784.5,393.2C790.2,396.5 796.5,400.4 798.9,401.8" fill="none" stroke="#008a6a" stroke-width="1.55" stroke-linejoin="round" />
<path d="M422.1,530.0C422.2,529.5 421.6,533.6 422.6,527.0C423.6,520.4 426.4,501.4 428.2,490.3C430.0,479.2 432.2,469.2 433.6,460.2C435.1,451.1 435.6,444.7 436.9,436.0C438.2,427.3 439.9,417.6 441.3,408.1C442.8,398.6 444.5,386.8 445.6,379.0C446.8,371.2 447.4,366.4 448.2,361.6C449.0,356.8 449.4,354.1 450.2,350.0C451.0,345.9 452.0,340.9 452.9,337.0C453.8,333.1 454.6,330.2 455.6,326.9C456.6,323.6 457.9,319.9 459.0,317.4C460.1,314.9 461.4,313.5 462.4,312.0C463.4,310.5 463.9,309.5 465.1,308.6C466.3,307.8 468.1,306.9 469.5,306.9C470.9,306.8 472.1,307.5 473.6,308.3C475.1,309.1 476.8,310.3 478.6,311.8C480.4,313.3 481.4,314.3 484.4,317.4C487.4,320.5 492.5,326.4 496.5,330.2C500.5,334.0 504.5,337.1 508.5,340.3C512.5,343.5 516.6,346.8 520.6,349.3C524.6,351.8 529.4,353.7 532.6,355.3C535.8,356.9 536.8,357.6 540.0,359.2C543.2,360.8 548.0,363.1 552.0,364.8C556.0,366.5 560.4,368.4 564.1,369.3C567.8,370.2 571.2,369.4 574.1,370.1C577.0,370.8 578.9,373.4 581.2,373.7C583.6,374.0 585.7,371.9 588.2,371.7C590.7,371.5 592.9,372.9 596.2,372.5C599.6,372.1 603.6,370.2 608.3,369.1C613.0,368.0 618.9,367.4 624.3,365.9C629.6,364.3 636.4,361.4 640.4,359.8C644.4,358.2 644.5,357.4 648.4,356.0C652.3,354.6 659.4,352.8 664.0,351.4C668.6,350.0 671.6,348.7 676.0,347.4C680.4,346.1 685.4,344.7 690.1,343.4C694.8,342.1 699.2,340.7 704.2,339.4C709.2,338.1 715.5,336.6 720.2,335.4C724.9,334.2 728.3,333.0 732.3,332.0C736.3,331.0 740.6,330.0 744.3,329.4C748.0,328.8 751.0,328.6 754.4,328.4C757.8,328.2 761.1,328.1 764.4,328.0C767.7,327.9 771.0,327.9 774.4,328.0C777.8,328.1 780.4,328.1 784.5,328.4C788.6,328.7 796.5,329.7 798.9,330.0" fill="none" stroke="#c8000a" stroke-width="1.55" stroke-linejoin="round" />
<path d="M386.5,530.0C386.6,529.5 384.7,531.6 387.0,527.0C389.3,522.4 395.9,509.8 400.1,502.4C404.3,494.9 409.3,487.7 412.1,482.3C414.9,476.9 415.4,475.1 417.1,470.2C418.8,465.3 420.4,458.9 422.2,453.2C424.0,447.5 426.5,441.4 428.2,436.0C429.9,430.6 430.7,427.0 432.6,421.1C434.5,415.2 437.4,407.1 439.8,400.8C442.2,394.5 444.7,388.7 447.1,383.4C449.5,378.1 451.9,373.5 454.3,368.9C456.7,364.3 459.7,359.4 461.6,355.8C463.5,352.2 464.0,350.2 465.5,347.5C467.0,344.8 468.2,341.7 470.4,339.3C472.5,336.9 475.5,334.5 478.4,333.2C481.3,331.9 484.7,331.3 487.7,331.5C490.7,331.7 493.6,333.6 496.5,334.6C499.4,335.6 503.0,337.5 505.3,337.3C507.6,337.1 507.8,333.9 510.4,333.4C512.9,332.9 518.0,334.1 520.6,334.5C523.2,334.9 524.0,335.1 526.0,336.0C528.0,336.9 530.2,338.4 532.6,339.8C535.0,341.2 537.8,342.7 540.4,344.3C543.0,345.9 544.0,346.8 548.0,349.5C552.0,352.2 558.7,356.8 564.1,360.6C569.5,364.4 575.9,368.9 580.2,372.1C584.6,375.4 586.9,377.7 590.2,380.1C593.5,382.5 597.2,384.6 600.2,386.5C603.2,388.4 604.9,389.9 608.3,391.2C611.6,392.5 615.6,393.0 620.3,394.2C625.0,395.4 631.4,396.2 636.4,398.2C641.4,400.2 645.4,403.2 650.4,406.2C655.4,409.2 660.9,412.6 666.5,416.3C672.1,420.0 677.8,423.8 684.1,428.3C690.4,432.8 697.5,438.4 704.2,443.4C710.9,448.4 715.8,451.5 724.2,458.2C732.6,464.9 744.4,474.9 754.4,483.6C764.4,492.3 777.1,503.7 784.5,510.3C791.9,516.9 796.5,521.2 798.9,523.4" fill="none" stroke="#000098" stroke-width="1.6" stroke-linejoin="round" />
<polyline points="464.8,530.0 465.3,527.0 472.4,516.4 484.4,504.4 496.5,496.3 508.5,491.9 517.1,489.7 524.6,499.4 531.6,508.8 538.6,500.4 546.0,491.9 559.1,479.6 563.1,467.1 568.1,454.4 576.1,436.3 582.2,406.2 588.8,380.1 594.2,396.2 599.2,412.2 604.3,425.3 610.3,441.4 613.3,420.3 617.3,394.2 622.3,381.1 627.8,371.7 631.4,390.2 634.4,414.3 637.8,438.4 650.0,438.4 654.5,427.3 658.5,419.9 662.5,430.3 668.5,450.4 671.6,465.1 684.1,478.2 695.1,493.2 704.2,503.3 714.2,517.3 720.8,527.4 722.0,530.0" fill="none" stroke="#e42000" stroke-width="1.55" stroke-linejoin="round" />
<path d="M117.6,528.2C117.9,528.1 117.2,528.4 119.3,527.3C121.4,526.2 126.5,523.6 130.0,521.6C133.5,519.6 135.2,518.6 140.2,515.4C145.2,512.2 153.5,507.1 160.2,502.3C166.9,497.5 173.6,491.7 180.3,486.3C187.0,480.9 193.7,475.5 200.4,470.2C207.1,464.9 213.8,459.7 220.5,454.7C227.2,449.7 233.6,445.7 240.6,440.4C247.6,435.1 254.1,429.1 262.3,422.7C270.5,416.3 280.7,409.3 290.0,402.2C299.3,395.1 310.2,385.8 318.1,380.0C326.0,374.2 331.5,371.9 337.5,367.7C343.5,363.5 350.1,357.9 354.3,354.6C358.5,351.3 359.7,350.7 362.5,348.0C365.3,345.3 368.3,342.1 371.2,338.4C374.1,334.6 376.8,329.9 379.6,325.5C382.4,321.1 385.2,316.2 388.0,312.0C390.8,307.8 393.7,303.8 396.5,300.2C399.3,296.6 402.6,292.6 404.9,290.1C407.1,287.6 408.3,286.8 410.0,285.1C411.7,283.4 413.7,281.6 415.3,280.0C416.9,278.4 417.8,277.3 419.5,275.8C421.2,274.3 423.4,272.9 425.4,271.1C427.4,269.3 429.5,267.4 431.3,265.2C433.1,262.9 434.7,260.6 436.4,257.6C438.1,254.7 439.7,251.2 441.4,247.5C443.1,243.8 444.8,239.4 446.5,235.6C448.2,231.8 449.8,228.4 451.5,224.7C453.2,221.0 455.4,215.9 456.8,213.2C458.2,210.5 458.6,210.4 460.0,208.5C461.4,206.6 463.0,203.5 465.3,201.7C467.6,199.9 469.5,198.9 473.7,197.5C477.9,196.1 485.0,194.3 490.6,193.2C496.2,192.1 501.9,191.4 507.5,190.7C513.1,189.9 518.7,189.0 524.3,188.7C529.9,188.4 535.6,188.6 541.2,188.7C546.8,188.8 553.8,189.2 558.0,189.0C562.2,188.8 563.7,188.0 566.5,187.2C569.3,186.4 571.8,185.5 574.9,184.4C578.0,183.3 583.6,181.4 585.3,180.8" fill="none" stroke="#e60000" stroke-width="2.25" stroke-linejoin="round" />
<polyline points="585.3,180.8 589.5,179.5 598.8,181.7 610.6,183.7 617.3,181.7 627.5,182.2 637.6,187.2 647.7,187.6 657.8,187.6 669.6,190.9 685.6,193.8 691.5,191.3 694.9,190.6 696.9,187.1 703.5,185.5 711.1,184.7 723.7,186.4 740.6,190.3 757.5,194.8 774.3,201.0 787.8,206.6 799.3,210.8" fill="none" stroke="#e60000" stroke-width="2.25" stroke-linejoin="round" />
</g>
<text x="67.3" y="168.1" fill="#0c0cb6" font-size="18.3" font-weight="normal" font-family="'Liberation Serif', serif" text-anchor="start" textLength="6.6" lengthAdjust="spacingAndGlyphs"  stroke="#0c0cb6" stroke-width="0.8" stroke-linejoin="round">1</text>
<text x="76.6" y="168.1" fill="#0c0cb6" font-size="18.3" font-weight="normal" font-family="'Liberation Serif', serif" text-anchor="start" textLength="10.0" lengthAdjust="spacingAndGlyphs"  stroke="#0c0cb6" stroke-width="0.8" stroke-linejoin="round">0</text>
<text x="87.5" y="168.1" fill="#0c0cb6" font-size="18.3" font-weight="normal" font-family="'Liberation Serif', serif" text-anchor="start" textLength="9.8" lengthAdjust="spacingAndGlyphs"  stroke="#0c0cb6" stroke-width="0.8" stroke-linejoin="round">0</text>
<text x="78.2" y="351.2" fill="#0c0cb6" font-size="18.3" font-weight="normal" font-family="'Liberation Serif', serif" text-anchor="start" textLength="6.6" lengthAdjust="spacingAndGlyphs"  stroke="#0c0cb6" stroke-width="0.8" stroke-linejoin="round">1</text>
<text x="87.5" y="351.2" fill="#0c0cb6" font-size="18.3" font-weight="normal" font-family="'Liberation Serif', serif" text-anchor="start" textLength="10.0" lengthAdjust="spacingAndGlyphs"  stroke="#0c0cb6" stroke-width="0.8" stroke-linejoin="round">0</text>
<text x="89.1" y="527.7" fill="#0c0cb6" font-size="18.3" font-weight="normal" font-family="'Liberation Serif', serif" text-anchor="start" textLength="6.6" lengthAdjust="spacingAndGlyphs"  stroke="#0c0cb6" stroke-width="0.8" stroke-linejoin="round">1</text>
<text x="273.1" y="552.6" fill="#0c0cb6" font-size="18.3" font-weight="normal" font-family="'Liberation Serif', serif" text-anchor="start" textLength="6.6" lengthAdjust="spacingAndGlyphs"  stroke="#0c0cb6" stroke-width="0.8" stroke-linejoin="round">1</text>
<text x="282.4" y="552.6" fill="#0c0cb6" font-size="18.3" font-weight="normal" font-family="'Liberation Serif', serif" text-anchor="start" textLength="9.8" lengthAdjust="spacingAndGlyphs"  stroke="#0c0cb6" stroke-width="0.8" stroke-linejoin="round">0</text>
<text x="373.7" y="573.1" fill="#0c0cb6" font-size="18.5" font-weight="normal" font-family="'Liberation Serif', serif" text-anchor="start" textLength="104.0" lengthAdjust="spacingAndGlyphs"  stroke="#0c0cb6" stroke-width="0.68" stroke-linejoin="round">Wavelength</text>
<text x="484.8" y="573.1" fill="#0c0cb6" font-size="18.5" font-weight="normal" font-family="'Liberation Serif', serif" text-anchor="start" textLength="4.8" lengthAdjust="spacingAndGlyphs"  stroke="#0c0cb6" stroke-width="0.68" stroke-linejoin="round">(</text>
<text x="491.2" y="573.1" fill="#0c0cb6" font-size="18.5" font-weight="normal" font-family="'Liberation Serif', serif" text-anchor="start" textLength="30.5" lengthAdjust="spacingAndGlyphs"  stroke="#0c0cb6" stroke-width="0.68" stroke-linejoin="round">&#956;m</text>
<text x="523.8" y="573.1" fill="#0c0cb6" font-size="18.5" font-weight="normal" font-family="'Liberation Serif', serif" text-anchor="start" textLength="5.6" lengthAdjust="spacingAndGlyphs"  stroke="#0c0cb6" stroke-width="0.68" stroke-linejoin="round">)</text>
<g transform="translate(50.4,412.8) rotate(-90)">
<text x="-1.1" y="0.0" fill="#0c0cb6" font-size="19.0" font-weight="normal" font-family="'Liberation Serif', serif" text-anchor="start" textLength="70.0" lengthAdjust="spacingAndGlyphs"  stroke="#0c0cb6" stroke-width="0.68" stroke-linejoin="round">Surface</text>
<text x="78.0" y="0.0" fill="#0c0cb6" font-size="19.0" font-weight="normal" font-family="'Liberation Serif', serif" text-anchor="start" textLength="100.0" lengthAdjust="spacingAndGlyphs"  stroke="#0c0cb6" stroke-width="0.68" stroke-linejoin="round">Brightness</text>
<text x="188.0" y="0.0" fill="#0c0cb6" font-size="19.0" font-weight="normal" font-family="'Liberation Serif', serif" text-anchor="start" textLength="6.6" lengthAdjust="spacingAndGlyphs"  stroke="#0c0cb6" stroke-width="0.68" stroke-linejoin="round">(</text>
<text x="196.9" y="0.0" fill="#0c0cb6" font-size="19.0" font-weight="normal" font-family="'Liberation Serif', serif" text-anchor="start" textLength="24.1" lengthAdjust="spacingAndGlyphs"  stroke="#0c0cb6" stroke-width="0.68" stroke-linejoin="round">MJy</text>
<text x="239.3" y="0.0" fill="#0c0cb6" font-size="19.0" font-weight="normal" font-family="'Liberation Serif', serif" text-anchor="start" textLength="17.3" lengthAdjust="spacingAndGlyphs"  stroke="#0c0cb6" stroke-width="0.68" stroke-linejoin="round">sr</text>
<text x="257.4" y="0.0" fill="#0c0cb6" font-size="19.0" font-weight="normal" font-family="'Liberation Serif', serif" text-anchor="start" textLength="6.6" lengthAdjust="spacingAndGlyphs"  stroke="#0c0cb6" stroke-width="0.68" stroke-linejoin="round">)</text>
<line x1="224.6" y1="4.6" x2="237.6" y2="-12.6" stroke="#0c0cb6" stroke-width="1.9" stroke-linecap="round"/>
</g>
</svg>
</body></html>
